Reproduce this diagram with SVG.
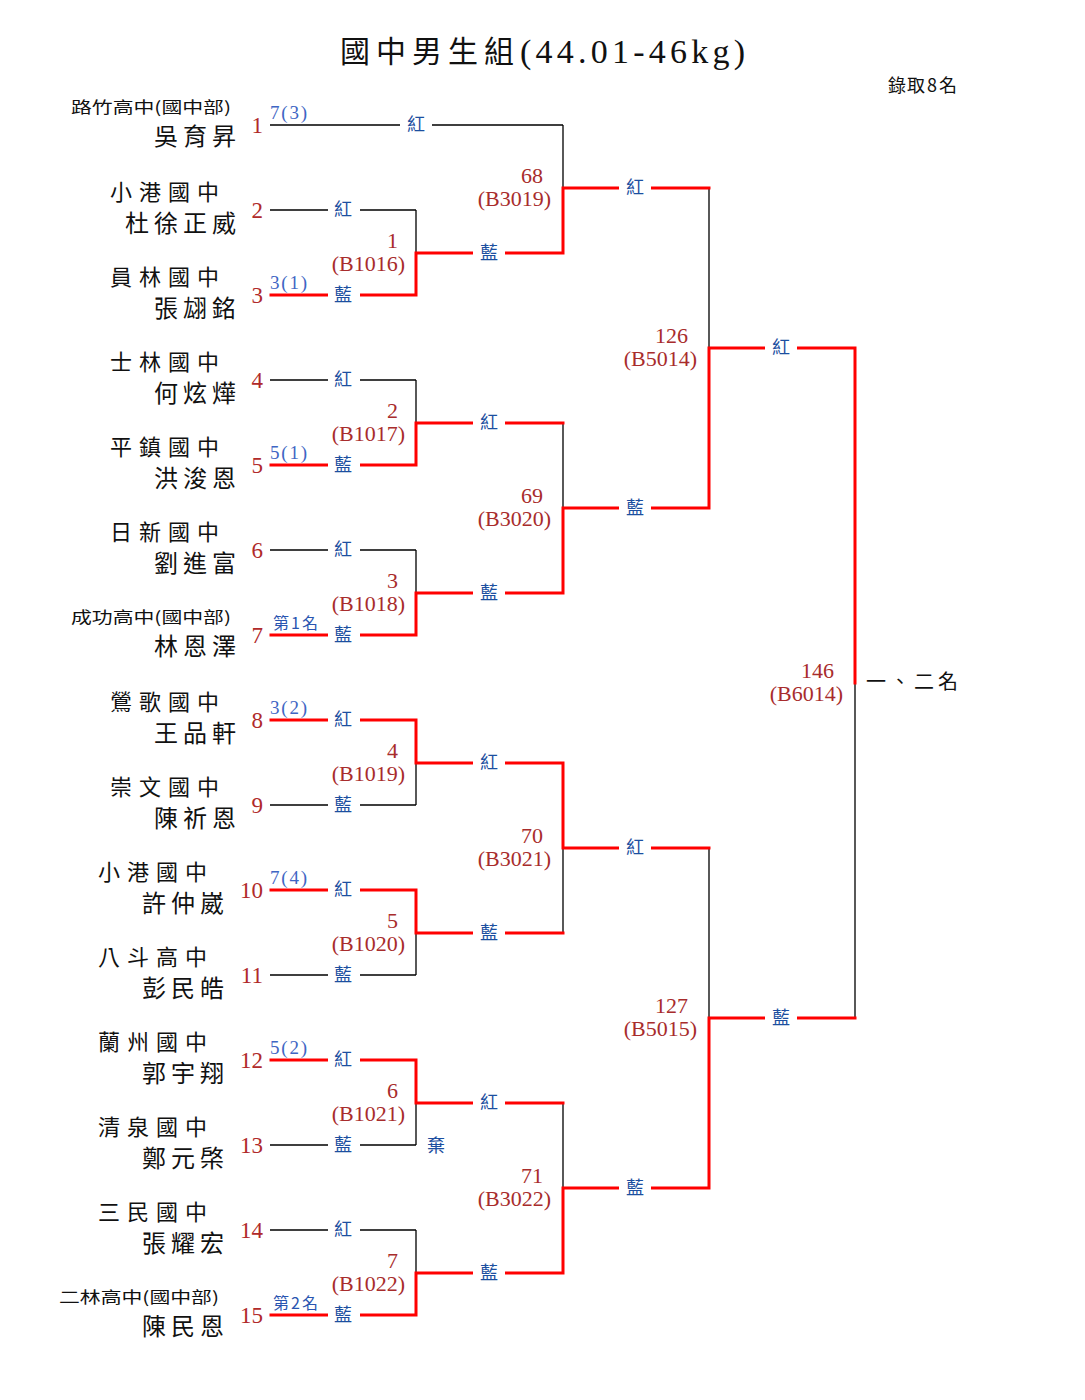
<svg xmlns="http://www.w3.org/2000/svg" width="1085" height="1400" viewBox="0 0 1085 1400">
<style>
.bl{stroke:#000;stroke-width:1.3;fill:none}
.rd{stroke:#f00;stroke-width:3;fill:none;stroke-linecap:square}
.cjk{font-family:"Noto Sans CJK TC","Noto Sans CJK SC",sans-serif}
.ser{font-family:"Liberation Serif",serif}
.sch{font-family:"Noto Sans CJK TC",sans-serif;font-size:22px;fill:#111}
.nm{font-family:"Noto Sans CJK TC",sans-serif;font-size:24px;fill:#111}
.sm{font-family:"Noto Sans CJK TC",sans-serif;font-size:16px;fill:#111}
.num{font-family:"Liberation Serif",serif;font-size:23px;fill:#b02a2a;text-anchor:end}
.mt{font-family:"Liberation Serif",serif;font-size:22px;fill:#a82c2c;text-anchor:end}
.seed{font-family:"Liberation Serif",serif;font-size:19px;fill:#3f66c4}
.seedc{font-family:"Noto Sans CJK TC",sans-serif;font-size:16px;fill:#2a55b0}
.lab{font-family:"Noto Sans CJK TC",sans-serif;font-size:18px;fill:#1c4fa0;text-anchor:middle}
.gap{fill:#fff}
</style>

<g id="title">
<text class="cjk" x="340 376 412 448 484" y="62" font-size="30" fill="#111">國中男生組</text>
<text class="ser" x="520" y="63" font-size="34" fill="#111" textLength="225" lengthAdjust="spacing">(44.01-46kg)</text>
<text class="cjk" x="888 907 927 939" y="92" font-size="18" fill="#111">錄取8名</text>
</g>

<g id="connectors">
<path class="bl" d="M270,125H563 M270,210H416 M270,295H416 M270,380H416 M270,465H416 M270,550H416 M270,635H416 M270,720H416 M270,805H416 M270,890H416 M270,975H416 M270,1060H416 M270,1145H416 M270,1230H416 M270,1315H416"/>
<path class="bl" d="M416,210V295 M416,380V465 M416,550V635 M416,720V805 M416,890V975 M416,1060V1145 M416,1230V1315"/>
<path class="bl" d="M563,125V253 M563,423V593 M563,763V933 M563,1103V1273"/>
<path class="bl" d="M709,188V508 M709,848V1188 M855,348V1018"/>
<path class="rd" d="M271,295H416V253H563V188H709"/>
<path class="rd" d="M271,465H416V423H563"/>
<path class="rd" d="M271,635H416V593H563V508H709V348H855V683"/>
<path class="rd" d="M271,720H416V763H563V848H709"/>
<path class="rd" d="M271,890H416V933H563"/>
<path class="rd" d="M271,1060H416V1103H563"/>
<path class="rd" d="M271,1315H416V1273H563V1188H709V1018H855"/>
</g>

<g id="corner-labels">
<g><rect class="gap" x="400" y="121" width="32" height="8"/><text class="lab" x="416" y="131">紅</text></g>
<g><rect class="gap" x="328" y="206" width="32" height="8"/><text class="lab" x="343" y="216">紅</text></g>
<g><rect class="gap" x="328" y="291" width="32" height="8"/><text class="lab" x="343" y="301">藍</text></g>
<g><rect class="gap" x="328" y="376" width="32" height="8"/><text class="lab" x="343" y="386">紅</text></g>
<g><rect class="gap" x="328" y="461" width="32" height="8"/><text class="lab" x="343" y="471">藍</text></g>
<g><rect class="gap" x="328" y="546" width="32" height="8"/><text class="lab" x="343" y="556">紅</text></g>
<g><rect class="gap" x="328" y="631" width="32" height="8"/><text class="lab" x="343" y="641">藍</text></g>
<g><rect class="gap" x="328" y="716" width="32" height="8"/><text class="lab" x="343" y="726">紅</text></g>
<g><rect class="gap" x="328" y="801" width="32" height="8"/><text class="lab" x="343" y="811">藍</text></g>
<g><rect class="gap" x="328" y="886" width="32" height="8"/><text class="lab" x="343" y="896">紅</text></g>
<g><rect class="gap" x="328" y="971" width="32" height="8"/><text class="lab" x="343" y="981">藍</text></g>
<g><rect class="gap" x="328" y="1056" width="32" height="8"/><text class="lab" x="343" y="1066">紅</text></g>
<g><rect class="gap" x="328" y="1141" width="32" height="8"/><text class="lab" x="343" y="1151">藍</text></g>
<g><rect class="gap" x="328" y="1226" width="32" height="8"/><text class="lab" x="343" y="1236">紅</text></g>
<g><rect class="gap" x="328" y="1311" width="32" height="8"/><text class="lab" x="343" y="1321">藍</text></g>
<g><rect class="gap" x="473" y="249" width="32" height="8"/><text class="lab" x="489" y="259">藍</text></g>
<g><rect class="gap" x="473" y="419" width="32" height="8"/><text class="lab" x="489" y="429">紅</text></g>
<g><rect class="gap" x="473" y="589" width="32" height="8"/><text class="lab" x="489" y="599">藍</text></g>
<g><rect class="gap" x="473" y="759" width="32" height="8"/><text class="lab" x="489" y="769">紅</text></g>
<g><rect class="gap" x="473" y="929" width="32" height="8"/><text class="lab" x="489" y="939">藍</text></g>
<g><rect class="gap" x="473" y="1099" width="32" height="8"/><text class="lab" x="489" y="1109">紅</text></g>
<g><rect class="gap" x="473" y="1269" width="32" height="8"/><text class="lab" x="489" y="1279">藍</text></g>
<g><rect class="gap" x="619" y="184" width="32" height="8"/><text class="lab" x="635" y="194">紅</text></g>
<g><rect class="gap" x="619" y="504" width="32" height="8"/><text class="lab" x="635" y="514">藍</text></g>
<g><rect class="gap" x="619" y="844" width="32" height="8"/><text class="lab" x="635" y="854">紅</text></g>
<g><rect class="gap" x="619" y="1184" width="32" height="8"/><text class="lab" x="635" y="1194">藍</text></g>
<g><rect class="gap" x="765" y="344" width="32" height="8"/><text class="lab" x="781" y="354">紅</text></g>
<g><rect class="gap" x="765" y="1014" width="32" height="8"/><text class="lab" x="781" y="1024">藍</text></g>
<text class="lab" x="436" y="1152" font-size="20">棄</text>
</g>

<g id="matches">
<g id="m1"><text class="mt" x="398" y="248">1</text><text class="mt" x="405" y="271">(B1016)</text></g>
<g id="m2"><text class="mt" x="398" y="418">2</text><text class="mt" x="405" y="441">(B1017)</text></g>
<g id="m3"><text class="mt" x="398" y="588">3</text><text class="mt" x="405" y="611">(B1018)</text></g>
<g id="m4"><text class="mt" x="398" y="758">4</text><text class="mt" x="405" y="781">(B1019)</text></g>
<g id="m5"><text class="mt" x="398" y="928">5</text><text class="mt" x="405" y="951">(B1020)</text></g>
<g id="m6"><text class="mt" x="398" y="1098">6</text><text class="mt" x="405" y="1121">(B1021)</text></g>
<g id="m7"><text class="mt" x="398" y="1268">7</text><text class="mt" x="405" y="1291">(B1022)</text></g>
<g id="m68"><text class="mt" x="543" y="183">68</text><text class="mt" x="551" y="206">(B3019)</text></g>
<g id="m69"><text class="mt" x="543" y="503">69</text><text class="mt" x="551" y="526">(B3020)</text></g>
<g id="m70"><text class="mt" x="543" y="843">70</text><text class="mt" x="551" y="866">(B3021)</text></g>
<g id="m71"><text class="mt" x="543" y="1183">71</text><text class="mt" x="551" y="1206">(B3022)</text></g>
<g id="m126"><text class="mt" x="688" y="343">126</text><text class="mt" x="697" y="366">(B5014)</text></g>
<g id="m127"><text class="mt" x="688" y="1013">127</text><text class="mt" x="697" y="1036">(B5015)</text></g>
<g id="m146"><text class="mt" x="834" y="678">146</text><text class="mt" x="843" y="701">(B6014)</text></g>
<g id="final"><text class="cjk" x="866 890 914 938" y="689" font-size="20" fill="#111">一、二名</text></g>
</g>

<g id="e1"><text class="sm" x="71" y="113" textLength="160" lengthAdjust="spacingAndGlyphs">路竹高中(國中部)</text><text class="nm" x="154 183 212" y="145">吳育昇</text><text class="num" x="263" y="133">1</text><text class="seed" x="270" y="119" textLength="37">7(3)</text></g>
<g id="e2"><text class="sch" x="110 139 168 197" y="200">小港國中</text><text class="nm" x="125 154 183 212" y="232">杜徐正威</text><text class="num" x="263" y="218">2</text></g>
<g id="e3"><text class="sch" x="110 139 168 197" y="285">員林國中</text><text class="nm" x="154 183 212" y="317">張翃銘</text><text class="num" x="263" y="303">3</text><text class="seed" x="270" y="289" textLength="37">3(1)</text></g>
<g id="e4"><text class="sch" x="110 139 168 197" y="370">士林國中</text><text class="nm" x="154 183 212" y="402">何炫燁</text><text class="num" x="263" y="388">4</text></g>
<g id="e5"><text class="sch" x="110 139 168 197" y="455">平鎮國中</text><text class="nm" x="154 183 212" y="487">洪浚恩</text><text class="num" x="263" y="473">5</text><text class="seed" x="270" y="459" textLength="37">5(1)</text></g>
<g id="e6"><text class="sch" x="110 139 168 197" y="540">日新國中</text><text class="nm" x="154 183 212" y="572">劉進富</text><text class="num" x="263" y="558">6</text></g>
<g id="e7"><text class="sm" x="71" y="623" textLength="160" lengthAdjust="spacingAndGlyphs">成功高中(國中部)</text><text class="nm" x="154 183 212" y="655">林恩澤</text><text class="num" x="263" y="643">7</text><text class="seedc" x="273" y="629" textLength="45">第1名</text></g>
<g id="e8"><text class="sch" x="110 139 168 197" y="710">鶯歌國中</text><text class="nm" x="154 183 212" y="742">王品軒</text><text class="num" x="263" y="728">8</text><text class="seed" x="270" y="714" textLength="37">3(2)</text></g>
<g id="e9"><text class="sch" x="110 139 168 197" y="795">崇文國中</text><text class="nm" x="154 183 212" y="827">陳祈恩</text><text class="num" x="263" y="813">9</text></g>
<g id="e10"><text class="sch" x="98 127 156 185" y="880">小港國中</text><text class="nm" x="142 171 200" y="912">許仲崴</text><text class="num" x="263" y="898">10</text><text class="seed" x="270" y="884" textLength="37">7(4)</text></g>
<g id="e11"><text class="sch" x="98 127 156 185" y="965">八斗高中</text><text class="nm" x="142 171 200" y="997">彭民皓</text><text class="num" x="263" y="983">11</text></g>
<g id="e12"><text class="sch" x="98 127 156 185" y="1050">蘭州國中</text><text class="nm" x="142 171 200" y="1082">郭宇翔</text><text class="num" x="263" y="1068">12</text><text class="seed" x="270" y="1054" textLength="37">5(2)</text></g>
<g id="e13"><text class="sch" x="98 127 156 185" y="1135">清泉國中</text><text class="nm" x="142 171 200" y="1167">鄭元棨</text><text class="num" x="263" y="1153">13</text></g>
<g id="e14"><text class="sch" x="98 127 156 185" y="1220">三民國中</text><text class="nm" x="142 171 200" y="1252">張耀宏</text><text class="num" x="263" y="1238">14</text></g>
<g id="e15"><text class="sm" x="59" y="1303" textLength="160" lengthAdjust="spacingAndGlyphs">二林高中(國中部)</text><text class="nm" x="142 171 200" y="1335">陳民恩</text><text class="num" x="263" y="1323">15</text><text class="seedc" x="273" y="1309" textLength="45">第2名</text></g>
</svg>
